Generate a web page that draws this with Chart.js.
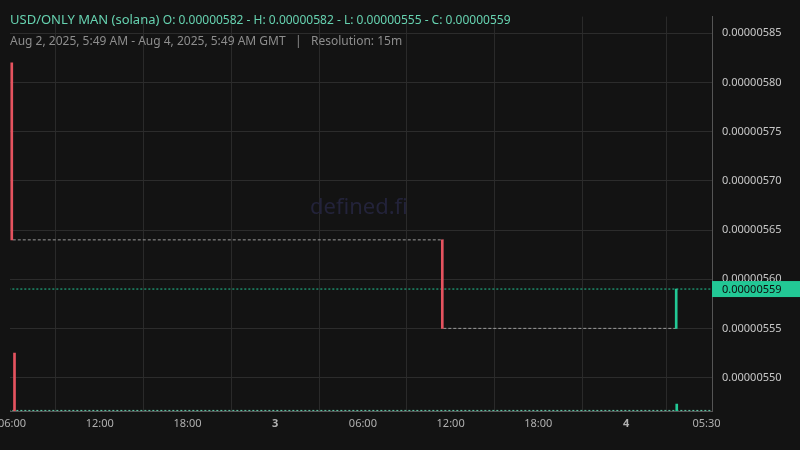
<!DOCTYPE html>
<html>
<head>
<meta charset="utf-8">
<script src="https://cdn.jsdelivr.net/npm/chart.js@4"></script>
<style>
  body { margin: 0; background: #131313; font-family: "Noto Sans", "Open Sans", sans-serif; }
  #wrap { position: relative; width: 800px; height: 450px; }
  .hdr { position: absolute; left: 10px; white-space: nowrap; }
  #title { top: 10px; font-size: 13px; color: #66d2b0; }
  #title span { font-size: 12px; }
  #sub { top: 32px; font-size: 12px; color: #8d8d8d; }
  #mark { position: absolute; left: 310px; top: 190px; font-size: 22px; color: #23233a; }
</style>
</head>
<body>
<div id="wrap">
  <canvas id="myChart" width="800" height="450"></canvas>
  <div id="mark">defined.fi</div>
  <div class="hdr" id="title">USD/ONLY MAN (solana) <span>O: 0.00000582 - H: 0.00000582 - L: 0.00000555 - C: 0.00000559</span></div>
  <div class="hdr" id="sub">Aug 2, 2025, 5:49 AM - Aug 4, 2025, 5:49 AM GMT &nbsp;&nbsp;|&nbsp;&nbsp; Resolution: 15m</div>
</div>
<script>
// hours since Aug 2 00:00, prices in units of 1e-8
var candleHours = [6.05, 35.5, 51.5];
var candleOpen = [582, 564, 555];
var candleClose = [564, 555, 559];
var volHours = [6.1, 51.4];
var volValues = [100, 12];
var lastPrice = 559;
var tickHours = [6, 12, 18, 24, 30, 36, 42, 48, 53.5];
var tickLabels = ["06:00", "12:00", "18:00", "3", "06:00", "12:00", "18:00", "4", "05:30"];

var red = "#e5535f", green = "#22c895";

var candleData = candleHours.map((h, i) => ({ x: h, y: [candleOpen[i], candleClose[i]] }));
var candleColors = candleHours.map((h, i) => candleClose[i] >= candleOpen[i] ? green : red);

// gray dashed step line between candles
var stepData = [];
for (var i = 0; i < candleHours.length - 1; i++) {
  stepData.push({ x: candleHours[i], y: candleClose[i] });
  stepData.push({ x: candleHours[i + 1], y: candleClose[i] });
  stepData.push({ x: NaN, y: NaN });
}

var priceLabel = {
  id: "priceLabel",
  afterDraw(chart) {
    const ctx = chart.ctx;
    const y = chart.scales.y.getPixelForValue(lastPrice);
    const x = chart.chartArea.right;
    ctx.save();
    ctx.fillStyle = green;
    ctx.fillRect(x, y - 8, 88, 16);
    ctx.fillStyle = "#0d0d0d";
    ctx.font = "11px 'Noto Sans'";
    ctx.textBaseline = "middle";
    ctx.fillText((lastPrice * 1e-8).toFixed(8), x + 10, y + 1);
    ctx.restore();
  }
};

new Chart("myChart", {
  type: "bar",
  data: {
    datasets: [
      { data: candleData, backgroundColor: candleColors, barThickness: 2, yAxisID: "y", order: 1 },
      { data: volHours.map((h, i) => ({ x: h, y: volValues[i] })), backgroundColor: [red, green],
        barThickness: 2, yAxisID: "v", order: 3 },
      { type: "line", data: stepData, borderColor: "#9a9a9a", borderWidth: 1, borderDash: [3, 2],
        pointRadius: 0, spanGaps: false, yAxisID: "y", order: 2 },
      { type: "line", data: [{ x: 0, y: lastPrice }, { x: 60, y: lastPrice }], borderColor: green,
        borderWidth: 1, borderDash: [2, 2], pointRadius: 0, yAxisID: "y", order: 2 },
      { type: "line", data: [{ x: 0, y: 1 }, { x: 60, y: 1 }], borderColor: "#66d2b0",
        borderWidth: 1, borderDash: [2, 2], pointRadius: 0, yAxisID: "v", order: 4 }
    ]
  },
  plugins: [priceLabel],
  options: {
    animation: false,
    responsive: false,
    layout: { padding: { left: 10, top: 10 } },
    plugins: { legend: { display: false }, tooltip: { enabled: false } },
    scales: {
      x: {
        type: "linear", min: 5.86, max: 53.88, offset: false,
        grid: { color: "#2a2a2a", drawTicks: false },
        border: { color: "#555" },
        afterBuildTicks: s => { s.ticks = tickHours.map(v => ({ value: v })); },
        afterFit: s => { s.height = 39; s.paddingLeft = 0; s.paddingRight = 0; },
        ticks: {
          color: "#b0b0b0", padding: 6, maxRotation: 0, autoSkip: false,
          callback: (v, i) => tickLabels[i],
          font: c => ({ family: "Noto Sans", size: 11, weight: (c.index === 3 || c.index === 7) ? "bold" : "normal" })
        }
      },
      y: {
        position: "right", min: 546.6, max: 586.7,
        grid: { color: "#2c2c2c", drawTicks: false },
        border: { color: "#555" },
        afterBuildTicks: s => { s.ticks = [550, 555, 560, 565, 570, 575, 580, 585].map(v => ({ value: v })); },
        afterFit: s => { s.width = 88; },
        ticks: {
          color: "#c8c8c8", padding: 10, font: { family: "Noto Sans", size: 11 },
          callback: v => (v * 1e-8).toFixed(8)
        }
      },
      v: { display: false, min: 0, max: 680 }
    }
  }
});
</script>
</body>
</html>
